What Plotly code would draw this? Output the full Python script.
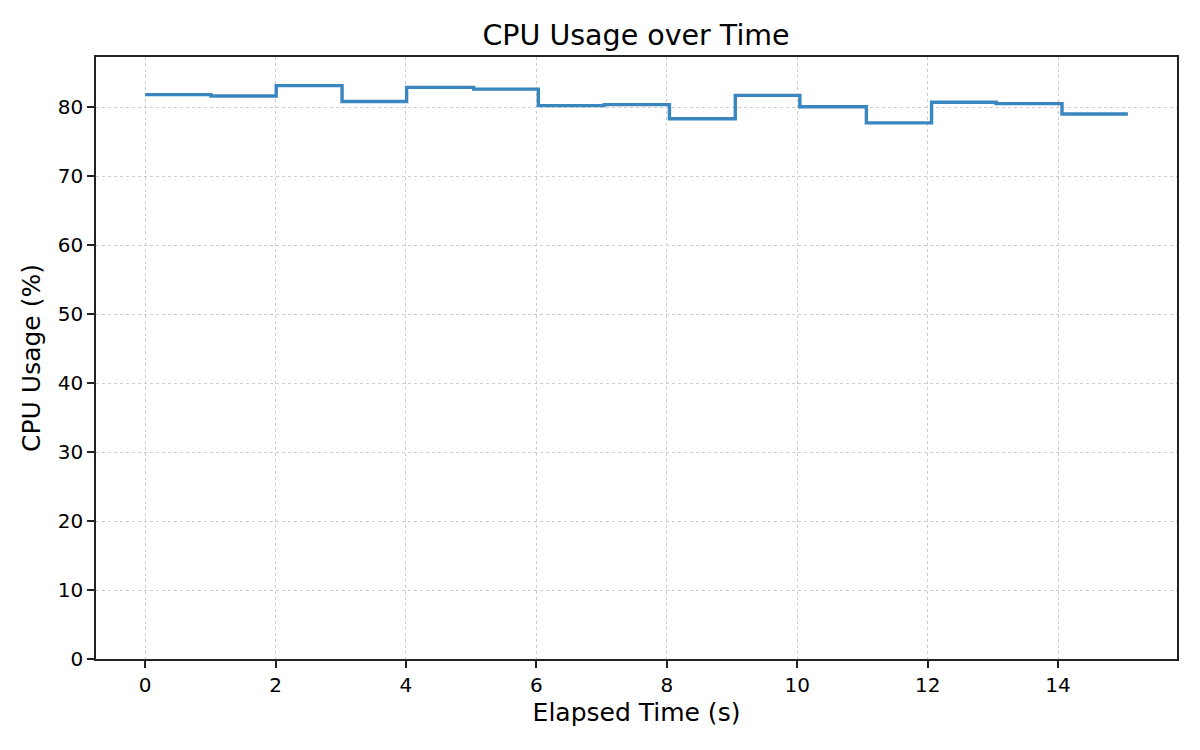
import plotly.graph_objects as go

elapsed_s = [0.0, 1.01, 2.01, 3.02, 4.01, 5.04, 6.03, 7.04, 8.04, 9.05, 10.04, 11.06, 12.06, 13.05, 14.06, 15.07]
cpu_pct = [81.8, 81.6, 83.1, 80.8, 82.85, 82.6, 80.2, 80.35, 78.3, 81.7, 80.05, 77.7, 80.7, 80.5, 79.0, 79.0]
x_ticks = [0, 2, 4, 6, 8, 10, 12, 14]
y_ticks = [0, 10, 20, 30, 40, 50, 60, 70, 80]

FONT = "DejaVu Sans"
AX = "#222222"
OFF = 8  # page body margin
L, R, T, B = 96 - OFF, 23 + OFF, 57 - OFF, 91 + OFF
W, H = 1200, 750

fig = go.Figure()
fig.add_trace(go.Scatter(
    x=elapsed_s, y=cpu_pct, mode="lines",
    line=dict(shape="hv", color="#3a86bf", width=3.4),
    showlegend=False,
))

span = elapsed_s[-1] - elapsed_s[0]
fig.update_layout(
    width=W, height=H,
    paper_bgcolor="white", plot_bgcolor="white",
    margin=dict(l=L, r=R, t=T, b=B),
    font=dict(family=FONT, color="black", size=20),
    title=dict(text="CPU Usage over Time", x=(636 - OFF) / W, xanchor="center",
               y=1 - (35 - OFF) / H, yanchor="middle",
               font=dict(family=FONT, size=28.5, color="black")),
)
fig.update_xaxes(
    range=[elapsed_s[0] - 0.05 * span, elapsed_s[-1] + 0.05 * span],
    tickvals=x_ticks, ticks="outside", ticklen=7, tickwidth=1.6, tickcolor=AX,
    showline=True, linecolor=AX, linewidth=1.6, mirror=True,
    showgrid=True, gridcolor="#cccccc", griddash="dot", gridwidth=1.2,
    zeroline=False,
    title=dict(text="Elapsed Time (s)", font=dict(family=FONT, size=25), standoff=8),
    tickfont=dict(family=FONT, size=20),
)
fig.update_yaxes(
    range=[0, max(cpu_pct) * 1.05],
    tickvals=y_ticks, ticks="outside", ticklen=7, tickwidth=1.6, tickcolor=AX,
    showline=True, linecolor=AX, linewidth=1.6, mirror=True,
    showgrid=True, gridcolor="#cccccc", griddash="dot", gridwidth=1.2,
    zeroline=False,
    title=dict(text="CPU Usage (%)", font=dict(family=FONT, size=25), standoff=10),
    tickfont=dict(family=FONT, size=20),
)

fig.write_html("out.html")
